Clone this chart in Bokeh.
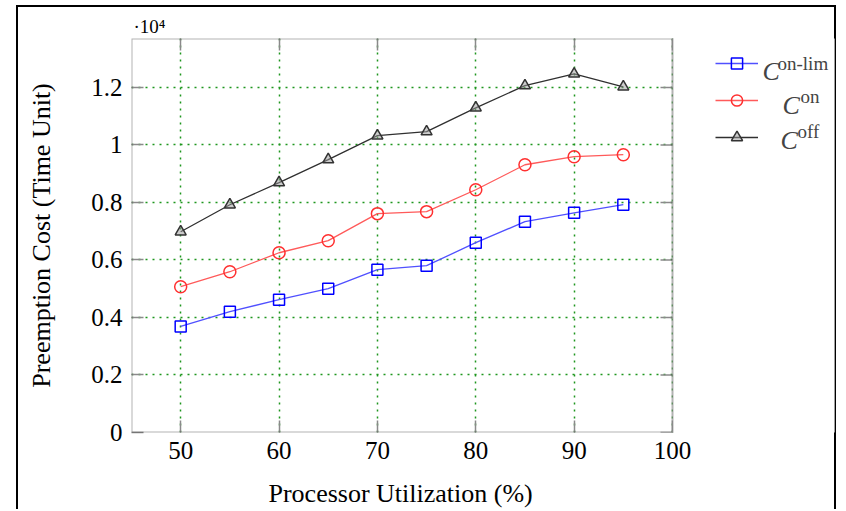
import math
from bokeh.plotting import figure
from bokeh.models import (Range1d, FixedTicker, LinearAxis, CustomJSTickFormatter,
                          Legend, LegendItem, Label, Title, BoxAnnotation)
from bokeh.embed import file_html
from bokeh.resources import INLINE

# ---- data (Preemption cost in time units) ----
utilization = [50, 55, 60, 65, 70, 75, 80, 85, 90, 95]
cost_on_lim = [3690, 4200, 4620, 5000, 5660, 5800, 6600, 7330, 7640, 7920]
cost_on = [5070, 5590, 6250, 6670, 7610, 7680, 8440, 9310, 9590, 9660]
cost_off = [6980, 7920, 8690, 9490, 10320, 10460, 11290, 12060, 12470, 12020]

x_ticks = [50, 60, 70, 80, 90, 100]
y_ticks = [0, 2000, 4000, 6000, 8000, 10000, 12000]
x_min, x_max = 45, 100
y_min, y_max = 0, 13700

series_main = ["C", "C", "C"]
series_sup = ["on-lim", "on", "off"]
x_label = "Processor Utilization (%)"
y_label = "Preemption Cost (Time Unit)"

FONT = "Liberation Serif"
W, H = 840, 509
ML, MR, MT, MB = 131, 6, 38, 76
AXES_W = 541  # pixel width of the axes box (x_min..x_max)
x_end = x_min + (W - ML - MR) * (x_max - x_min) / AXES_W  # room for legend

p = figure(width=W, height=H, output_backend="svg", toolbar_location=None,
           x_range=Range1d(x_min, x_end), y_range=Range1d(y_min, y_max),
           min_border_left=ML, min_border_right=MR, min_border_top=MT,
           min_border_bottom=MB, background_fill_color="white",
           border_fill_alpha=0)
p.outline_line_color = None

# exponent marker as title
p.title = Title(text="·10⁴", align="left", text_font=FONT, text_font_size="19px",
                text_font_style="normal", text_color="black", offset=2, standoff=4)

fmt = CustomJSTickFormatter(code="return String(Math.round(tick/1000)/10);")

for ax in (p.xaxis[0], p.yaxis[0]):
    ax.axis_line_color = None
    ax.major_tick_in = 12
    ax.major_tick_out = 0
    ax.major_tick_line_color = "#8a8a8a"
    ax.major_tick_line_width = 1.5
    ax.minor_tick_line_color = None
    ax.major_label_text_font = FONT
    ax.major_label_text_font_size = "25px"
    ax.major_label_text_color = "black"
    ax.axis_label_text_font = FONT
    ax.axis_label_text_font_size = "26px"
    ax.axis_label_text_font_style = "normal"
    ax.axis_label_text_color = "black"

p.xaxis[0].ticker = FixedTicker(ticks=x_ticks)
p.xaxis[0].bounds = (x_min, x_max)
p.xaxis[0].axis_label = " "
p.xaxis[0].axis_label_text_font_size = "1px"
p.xaxis[0].axis_label_standoff = 13
p.yaxis[0].ticker = FixedTicker(ticks=y_ticks)
p.yaxis[0].formatter = fmt
p.yaxis[0].axis_label = y_label
p.xaxis[0].major_label_standoff = 9
p.yaxis[0].major_label_standoff = 9
p.yaxis[0].axis_label_standoff = 32

# x-axis title, centred under the axes box
p.add_layout(Title(text=x_label, align="left", offset=137, text_font=FONT,
                   text_font_size="26px", text_font_style="normal",
                   text_color="black", vertical_align="top", standoff=0), "below")

# mirrored ticks on top
top = LinearAxis(ticker=FixedTicker(ticks=x_ticks), bounds=(x_min, x_max),
                 formatter=CustomJSTickFormatter(code="return '';"))
top.axis_line_color = None
top.major_tick_in = 12
top.major_tick_out = 0
top.major_tick_line_color = "#8a8a8a"
top.major_tick_line_width = 1.5
top.minor_tick_line_color = None
top.major_label_text_font_size = "1px"
top.major_label_standoff = 0
p.add_layout(top, "above")

for g in (p.xgrid[0], p.ygrid[0]):
    g.grid_line_color = "#1e961e"
    g.grid_line_dash = "2 5"
    g.grid_line_width = 1.5
p.xgrid[0].ticker = FixedTicker(ticks=x_ticks)
p.ygrid[0].ticker = FixedTicker(ticks=y_ticks)

# mirrored ticks on the right edge of the axes box
p.ray(x=[x_max] * len(y_ticks), y=y_ticks, length=12, length_units="screen",
      angle=math.pi, line_color="#8a8a8a", line_width=1.5)

# ---- series ----
styles = [
    dict(line="#5050ff", marker="square", size=11, mline="#0000ff", fill=None, falpha=1.0),
    dict(line="#ff5a5a", marker="circle", size=12, mline="#ff3030", fill=None, falpha=1.0),
    dict(line="#303030", marker="triangle", size=11, mline="#333333", fill="#9a9a9a", falpha=0.5),
]
values = [cost_on_lim, cost_on, cost_off]
items = []
for vals, st in zip(values, styles):
    lr = p.line(utilization, vals, line_color=st["line"], line_width=1.3)
    mr = p.scatter(utilization, vals, marker=st["marker"], size=st["size"],
                   line_color=st["mline"], line_width=1.5, fill_color=st["fill"],
                   fill_alpha=st["falpha"])
    items.append(LegendItem(label=" ", renderers=[lr, mr]))

# white area right of the axes box (legend area) and the axes box frame
p.add_layout(BoxAnnotation(left=x_max, fill_color="white", fill_alpha=1.0,
                           line_color=None))
p.add_layout(BoxAnnotation(left=x_min, right=x_max, bottom=y_min, top=y_max,
                           fill_alpha=0, line_color="black", line_width=2))

legend = Legend(items=items, location=(584, 281), orientation="vertical",
                glyph_width=43, glyph_height=28, label_height=28,
                label_width=1, spacing=9, padding=0, margin=0, label_standoff=0,
                border_line_color=None, background_fill_alpha=0,
                label_text_font_size="1px")
p.add_layout(legend, "center")

leg_pos = [(631, 361, 646, 369), (651, 327, 669, 336), (649, 292, 666, 301)]
for big, sup, (xc, yc, xs, ys) in zip(series_main, series_sup, leg_pos):
    p.add_layout(Label(x=xc, y=yc, x_units="screen", y_units="screen", text=big,
                       text_font=FONT, text_font_style="italic",
                       text_font_size="26px", text_baseline="alphabetic"))
    p.add_layout(Label(x=xs, y=ys, x_units="screen", y_units="screen", text=sup,
                       text_font=FONT, text_font_size="19px",
                       text_baseline="alphabetic"))

p.styles = {"background": (
    "linear-gradient(#000,#000) 16px 5px / 2px 100% no-repeat, "
    "linear-gradient(#000,#000) 834px 5px / 2px 100% no-repeat, "
    "linear-gradient(#000,#000) 16px 5px / 820px 2px no-repeat, white")}

open("out.html", "w").write(file_html(p, INLINE))
